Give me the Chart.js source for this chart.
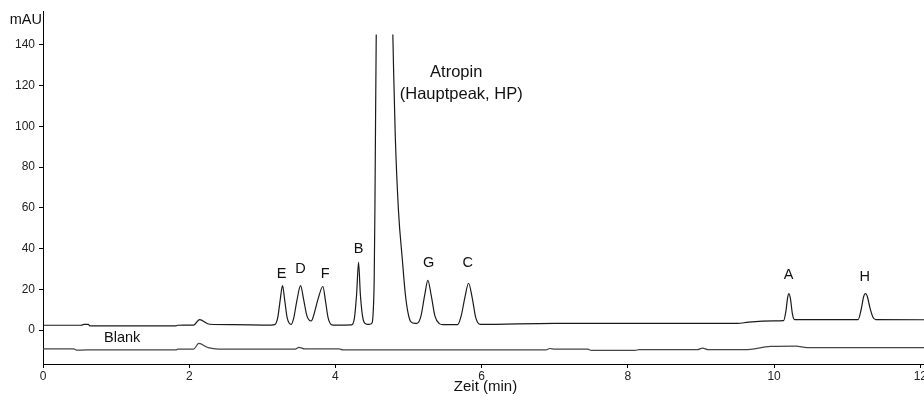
<!DOCTYPE html>
<html>
<head>
<meta charset="utf-8">
<script src="https://cdn.jsdelivr.net/npm/chart.js@4.4.1/dist/chart.umd.min.js"></script>
<style>
  html, body { margin: 0; padding: 0; background: #fff; }
  #wrap { width: 924px; height: 396px; }
</style>
</head>
<body>
<div id="wrap"><canvas id="chart" width="924" height="396"></canvas></div>
<script>
// sample trace (retention time in min, absorbance in mAU); null = off scale
const mainTime = [0, 0.52, 0.56, 0.62, 0.64, 1.82, 1.84, 2.06, 2.14, 2.28, 2.6, 3.12,
  3.17, 3.21, 3.245, 3.276, 3.305, 3.34, 3.395,
  3.43, 3.47, 3.523, 3.565, 3.61, 3.669,
  3.70, 3.76, 3.828, 3.865, 3.90, 3.95, 4.0,
  4.22, 4.26, 4.29, 4.316, 4.34, 4.37, 4.40, 4.44,
  4.47, 4.50, 4.515, 4.53, 4.54, 4.55, 4.558, 4.67, 4.785, 4.795, 4.818, 4.863, 4.914, 4.955, 4.99, 5.03, 5.09,
  5.12, 5.17, 5.22, 5.264, 5.31, 5.36, 5.42, 5.47,
  5.67, 5.72, 5.77, 5.821, 5.87, 5.92, 5.98,
  7.0, 9.5, 9.65, 10.0,
  10.13, 10.16, 10.185, 10.203, 10.225, 10.25, 10.28,
  11.15, 11.19, 11.225, 11.248, 11.275, 11.31, 11.35, 11.39, 12.05];
const mainSignal = [2.4, 2.4, 2.8, 2.8, 2.1, 2.1, 2.4, 2.5, 5.2, 2.9, 2.7, 2.5,
  2.7, 6, 15, 21.9, 15, 6, 2.8,
  6, 14, 21.8, 15, 7, 4.5,
  7, 15, 21.4, 14, 6, 2.6, 2.5,
  2.6, 6, 18, 33.3, 18, 7, 3.4, 2.8,
  2.9, 3.5, 8, 25, 60, 110, 145, null, 145, 128, 95.6, 58, 35, 18, 9, 4.2, 3.3,
  3.4, 7, 17, 24.4, 17, 7, 3.2, 2.7,
  2.7, 7, 16, 23, 16, 6, 2.8,
  3.3, 3.3, 3.9, 4.5,
  4.7, 9, 16, 17.9, 15, 8, 5.2,
  5.2, 10, 16.5, 17.9, 16.5, 11, 6.5, 5.2, 5.1];

// blank injection
const blankTime = [0, 0.42, 0.46, 0.6, 1.82, 1.84, 2.06, 2.13, 2.26, 2.4, 3.45, 3.5, 3.58,
  4.05, 4.1, 6.88, 6.93, 7.0, 7.45, 7.5, 8.1, 8.15, 8.95, 9.02, 9.1, 9.6, 9.95, 10.3, 10.45, 12.05];
const blankSignal = [-9.2, -9.2, -9.8, -9.7, -9.7, -9.3, -9.3, -6.5, -8.6, -9.3, -9.3, -8.4, -9.2,
  -9.2, -9.7, -9.7, -9.0, -9.3, -9.3, -9.9, -9.9, -9.6, -9.6, -8.8, -9.6, -9.6, -8.0, -7.8, -8.6, -8.6];

const xTicks = [0, 2, 4, 6, 8, 10, 12];
const yTicks = [0, 20, 40, 60, 80, 100, 120, 140];

// peak labels: name, retention time and height of the label centre
const peakNames = ['E', 'D', 'F', 'B', 'G', 'C', 'A', 'H'];
const peakLabelTime = [3.262, 3.522, 3.86, 4.316, 5.274, 5.811, 10.198, 11.238];
const peakLabelLevel = [27.3, 30.2, 27.3, 39.9, 33.1, 32.8, 27.0, 26.3];

const mainPeakLines = ['Atropin', '(Hauptpeak, HP)'];
const mainPeakTime = [5.652, 5.72];
const mainPeakLevel = [126.3, 115.8];

const FONT = '"Liberation Sans", Arial, sans-serif';

const toPoints = (xs, ys) => xs.map((x, i) => ({ x, y: ys[i] }));

const labels = {
  id: 'labels',
  afterDraw(chart) {
    const { ctx, chartArea, scales: { x, y } } = chart;
    ctx.save();
    ctx.fillStyle = '#111';
    ctx.textBaseline = 'middle';

    ctx.font = `14.5px ${FONT}`;
    ctx.textAlign = 'right';
    ctx.fillText('mAU', chartArea.left - 1, 20);

    ctx.textAlign = 'center';
    peakNames.forEach((name, i) => {
      ctx.fillText(name, x.getPixelForValue(peakLabelTime[i]), y.getPixelForValue(peakLabelLevel[i]));
    });
    ctx.fillText('Blank', x.getPixelForValue(1.083), y.getPixelForValue(-4.0));

    ctx.font = `16.5px ${FONT}`;
    mainPeakLines.forEach((line, i) => {
      ctx.fillText(line, x.getPixelForValue(mainPeakTime[i]), y.getPixelForValue(mainPeakLevel[i]));
    });

    ctx.font = `15px ${FONT}`;
    ctx.fillText('Zeit (min)', (chartArea.left + chartArea.right) / 2 + 2, 387);
    ctx.restore();
  },
};

new Chart(document.getElementById('chart'), {
  type: 'line',
  data: {
    datasets: [
      {
        data: toPoints(mainTime, mainSignal),
        borderColor: '#1a1a1a',
        borderWidth: 1.2,
        pointRadius: 0,
        cubicInterpolationMode: 'monotone',
        spanGaps: false,
      },
      {
        data: toPoints(blankTime, blankSignal),
        borderColor: '#444',
        borderWidth: 1.2,
        pointRadius: 0,
        cubicInterpolationMode: 'monotone',
      },
    ],
  },
  options: {
    responsive: false,
    devicePixelRatio: 1,
    animation: false,
    parsing: true,
    layout: { padding: { top: 9, right: 0, left: 0, bottom: 0 } },
    plugins: { legend: { display: false }, tooltip: { enabled: false } },
    scales: {
      x: {
        type: 'linear',
        min: 0,
        max: 12.05,
        afterBuildTicks: axis => { axis.ticks = xTicks.map(value => ({ value })); },
        afterFit: axis => {
          axis.height = 32;
          axis.paddingLeft = 0;
          axis.paddingRight = 0;
        },
        border: { display: true, color: '#000', width: 1 },
        grid: { drawOnChartArea: false, drawTicks: true, tickLength: 4, tickColor: '#000' },
        ticks: { color: '#222', padding: 1, maxRotation: 0, font: { family: FONT, size: 12 } },
      },
      y: {
        type: 'linear',
        min: -16.6,
        max: 156.4,
        afterBuildTicks: axis => { axis.ticks = yTicks.map(value => ({ value })); },
        afterFit: axis => { axis.width = 43; },
        border: { display: true, color: '#000', width: 1 },
        grid: { drawOnChartArea: false, drawTicks: true, tickLength: 4, tickColor: '#000' },
        ticks: { color: '#222', padding: 4, font: { family: FONT, size: 12 } },
      },
    },
  },
  plugins: [labels],
});
</script>
</body>
</html>
